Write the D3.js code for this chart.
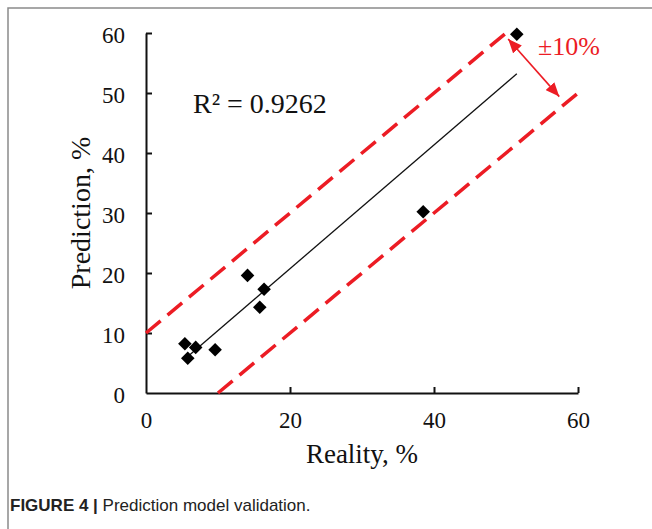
<!DOCTYPE html>
<html>
<head>
<meta charset="utf-8">
<script src="https://cdn.jsdelivr.net/npm/d3@7"></script>
<style>
body { margin: 0; background: #fff; }
svg { display: block; }
</style>
</head>
<body>
<svg id="graph1"></svg>
<script>
var screen = {width: 652, height: 529};
var margins = {top: 33, right: 74, bottom: 136, left: 146};

// measured points (reality, prediction)
var reality    = [51.5, 38.5, 14.1, 16.4, 15.8, 5.4, 6.9, 5.8, 9.6];
var prediction = [59.8, 30.2, 19.6, 17.3, 14.3, 8.2, 7.6, 5.8, 7.2];

var xTicks = [0, 20, 40, 60];
var yTicks = [0, 10, 20, 30, 40, 50, 60];

// +-10% band lines
var upperBand = [[0, 10], [50, 60]];
var lowerBand = [[10, 0], [60, 50]];
var bandArrow = [[50.3, 59.0], [57.4, 49.4]];

var rSquared = "R² = 0.9262";
var bandLabel = "±10%";

var red = "#ec1c24";
var serif = "'Liberation Serif', 'Times New Roman', serif";

var setup = function()
{
    var svg = d3.select("#graph1")
        .attr("width", screen.width)
        .attr("height", screen.height)

    var width = screen.width - margins.left - margins.right;
    var height = screen.height - margins.top - margins.bottom;

    // page frame
    svg.append("path")
        .attr("d", "M8,529V8H652")
        .attr("fill", "none")
        .attr("stroke", "#8a8a8a")
        .attr("stroke-width", 1.5)

    var xScale = d3.scaleLinear()
                    .domain([0, 60])
                    .range([margins.left, margins.left + width])

    var yScale = d3.scaleLinear()
                    .domain([0, 60])
                    .range([margins.top + height, margins.top])

    var defs = svg.append("defs")
    defs.append("marker")
        .attr("id", "head")
        .attr("viewBox", "0 0 12 10")
        .attr("refX", 12)
        .attr("refY", 5)
        .attr("markerUnits", "userSpaceOnUse")
        .attr("markerWidth", 14)
        .attr("markerHeight", 12)
        .attr("orient", "auto-start-reverse")
        .append("path")
        .attr("d", "M0,0L12,5L0,10Z")
        .attr("fill", red)

    var xAxis = d3.axisBottom(xScale)
        .tickValues(xTicks)
        .tickSizeInner(-6)
        .tickSizeOuter(0)
        .tickPadding(19)
    var yAxis = d3.axisLeft(yScale)
        .tickValues(yTicks)
        .tickSizeInner(-6)
        .tickSizeOuter(0)
        .tickPadding(21)

    var gx = svg.append("g")
        .attr("id", "xAxis")
        .attr("transform", "translate(0," + (margins.top + height) + ")")
        .call(xAxis)
    var gy = svg.append("g")
        .attr("id", "yAxis")
        .attr("transform", "translate(" + margins.left + ",0)")
        .call(yAxis)

    svg.selectAll("#xAxis, #yAxis")
        .attr("font-family", serif)
        .attr("font-size", 23)
    svg.selectAll(".domain, .tick line")
        .attr("stroke", "#111")
        .attr("stroke-width", 2)
    svg.selectAll(".tick text").attr("fill", "#111")
    gx.selectAll(".tick").filter(function(d) { return d == 0 }).select("line").remove()
    gy.selectAll(".tick").filter(function(d) { return d == 0 }).select("line").remove()
    gy.selectAll(".tick text").attr("dy", "0.42em")

    // dashed band
    var line = d3.line()
        .x(function(d) { return xScale(d[0]) })
        .y(function(d) { return yScale(d[1]) })

    svg.selectAll(".band")
        .data([upperBand, lowerBand])
        .enter()
        .append("path")
        .attr("class", "band")
        .attr("d", line)
        .attr("fill", "none")
        .attr("stroke", red)
        .attr("stroke-width", 3.5)
        .attr("stroke-dasharray", "19,9")

    // linear trend
    var mx = d3.mean(reality);
    var my = d3.mean(prediction);
    var sxy = d3.sum(reality, function(d, i) { return (d - mx) * (prediction[i] - my) });
    var sxx = d3.sum(reality, function(d) { return (d - mx) * (d - mx) });
    var slope = sxy / sxx;
    var icpt = my - slope * mx;
    var ext = d3.extent(reality);
    svg.append("path")
        .attr("d", line(ext.map(function(x) { return [x, icpt + slope * x] })))
        .attr("fill", "none")
        .attr("stroke", "#111")
        .attr("stroke-width", 1.3)

    // points
    svg.append("g")
        .selectAll("path")
        .data(reality)
        .enter()
        .append("path")
        .attr("d", d3.symbol().type(d3.symbolSquare).size(92))
        .attr("transform", function(d, i) {
            return "translate(" + xScale(d) + "," + yScale(prediction[i]) + ") rotate(45)"
        })
        .attr("fill", "#000")

    // +-10% arrow
    svg.append("path")
        .attr("d", line(bandArrow))
        .attr("stroke", red)
        .attr("stroke-width", 1.6)
        .attr("marker-start", "url(#head)")
        .attr("marker-end", "url(#head)")

    svg.append("text")
        .attr("x", 538)
        .attr("y", 55)
        .text(bandLabel)
        .attr("fill", red)
        .attr("font-family", serif)
        .attr("font-size", 26)

    svg.append("text")
        .attr("x", 193)
        .attr("y", 113)
        .text(rSquared)
        .attr("fill", "#111")
        .attr("font-family", serif)
        .attr("font-size", 28)

    // axis titles
    svg.append("text")
        .attr("x", xScale(30))
        .attr("y", 463)
        .attr("text-anchor", "middle")
        .text("Reality, %")
        .attr("fill", "#111")
        .attr("font-family", serif)
        .attr("font-size", 27)

    svg.append("text")
        .attr("transform", "translate(90," + 213 + ") rotate(-90)")
        .attr("text-anchor", "middle")
        .text("Prediction, %")
        .attr("fill", "#111")
        .attr("font-family", serif)
        .attr("font-size", 28)

    // caption
    var cap = svg.append("text")
        .attr("x", 10)
        .attr("y", 511)
        .style("font-family", "'Liberation Sans', Arial, sans-serif")
        .style("font-size", "17px")
        .attr("fill", "#222")
    cap.append("tspan").style("font-weight", "bold").text("FIGURE 4 | ")
    cap.append("tspan").text("Prediction model validation.")
}

setup()
</script>
</body>
</html>
